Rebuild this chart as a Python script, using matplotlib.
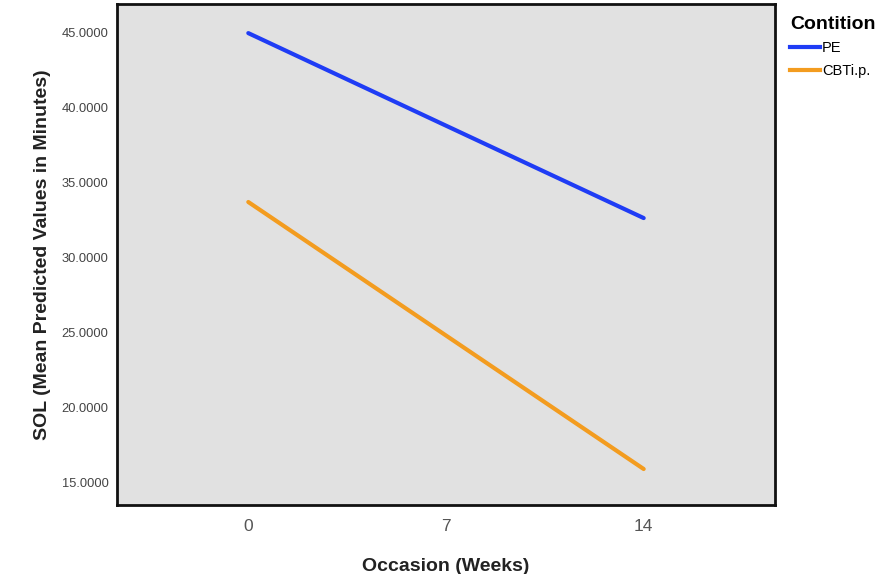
import matplotlib
matplotlib.use("Agg")
import matplotlib.pyplot as plt
from matplotlib.lines import Line2D

weeks = [0, 7, 14]
pe_values = [44.93, 38.76, 32.6]
cbt_values = [33.67, 24.77, 15.87]
series_names = ["PE", "CBTi.p."]
colors = ["#1f3cf5", "#f39c1f"]
yticks = [15, 20, 25, 30, 35, 40, 45]

plt.rcParams["font.family"] = ["Liberation Sans", "DejaVu Sans"]

fig = plt.figure(figsize=(8.91, 5.74), dpi=100)
fig.patch.set_facecolor("white")
ax = fig.add_axes([0.1313, 0.1202, 0.7385, 0.8728])
ax.set_facecolor("#e1e1e1")

ax.plot(weeks, pe_values, color=colors[0], lw=3.0, solid_capstyle="round")
ax.plot(weeks, cbt_values, color=colors[1], lw=3.0, solid_capstyle="round")

ax.set_xlim(-4.65, 18.65)
ax.set_ylim(13.47, 46.87)
ax.set_xticks(weeks)
ax.set_xticklabels([str(w) for w in weeks], fontsize=12.5, color="#555555")
ax.set_yticks(yticks)
ax.set_yticklabels([f"{v:.4f}" for v in yticks], fontsize=9.3, color="#444444")
ax.tick_params(axis="both", length=0)
ax.tick_params(axis="x", pad=10)
ax.tick_params(axis="y", pad=6)
for s in ax.spines.values():
    s.set_linewidth(2)
    s.set_color("#111111")

ax.set_xlabel("Occasion (Weeks)", fontsize=14, fontweight="bold", color="#222222", labelpad=17)
ax.set_ylabel("SOL (Mean Predicted Values in Minutes)", fontsize=14, fontweight="bold", color="#222222", labelpad=8)

handles = [Line2D([0], [0], color=c, lw=3.0) for c in colors]
leg = fig.legend(handles, series_names, title="Contition", loc="upper left",
                 bbox_to_anchor=(0.875, 0.99), frameon=False, fontsize=10.5,
                 handlelength=2.1, handletextpad=0.1, labelspacing=0.6,
                 borderpad=0.2)
leg.get_title().set_fontweight("bold")
leg.get_title().set_fontsize(14)
leg._legend_box.align = "left"
leg._legend_box.sep = 6

fig.savefig("out.png", dpi=100)
